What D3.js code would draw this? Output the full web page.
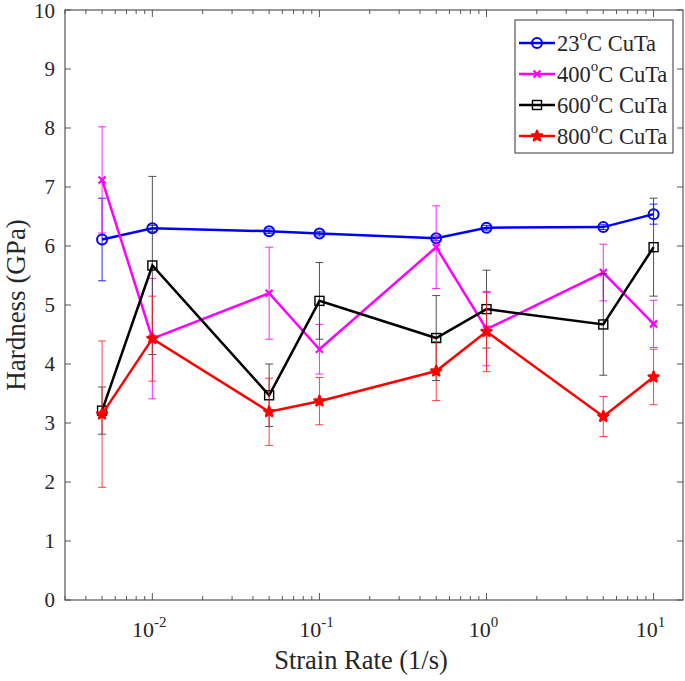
<!DOCTYPE html>
<html><head><meta charset="utf-8">
<script src="https://cdn.jsdelivr.net/npm/d3@7"></script>
<style>body{margin:0;background:#fff}svg{display:block}</style>
</head><body><svg id="c" width="685" height="681"></svg>
<script>
const rates = [0.005, 0.01, 0.05, 0.1, 0.5, 1, 5, 10];
const h23  = [6.11, 6.30, 6.25, 6.21, 6.13, 6.31, 6.32, 6.54];
const e23  = [0.70, 0.05, 0.04, 0.04, 0.04, 0.04, 0.04, 0.17];
const h400 = [7.12, 4.43, 5.20, 4.25, 5.98, 4.59, 5.55, 4.68];
const e400 = [0.90, 1.02, 0.78, 0.42, 0.70, 0.62, 0.48, 0.40];
const h600 = [3.21, 5.67, 3.47, 5.07, 4.44, 4.93, 4.67, 5.98];
const e600 = [0.40, 1.51, 0.53, 0.65, 0.72, 0.66, 0.86, 0.83];
const h800 = [3.15, 4.43, 3.19, 3.37, 3.88, 4.55, 3.11, 3.78];
const e800 = [1.24, 0.72, 0.57, 0.40, 0.50, 0.68, 0.34, 0.47];
const seriesNames = ["23", "400", "600", "800"];
const yTicks = [0,1,2,3,4,5,6,7,8,9,10];
const xTicks = [0.01, 0.1, 1, 10];

const FONT = "Liberation Serif, Times New Roman, serif";
const TXT = "#262626";

const series = [
  {name: seriesNames[0], v: h23, e: e23, color: "#0000ff", ecolor: "#0000ff", marker: "circle"},
  {name: seriesNames[1], v: h400, e: e400, color: "#ff00ff", ecolor: "#ff00ff", marker: "x"},
  {name: seriesNames[2], v: h600, e: e600, color: "#000000", ecolor: "#333333", marker: "square"},
  {name: seriesNames[3], v: h800, e: e800, color: "#ff0000", ecolor: "#ff2020", marker: "star"}
];

const svg = d3.select("#c");
const L = 65, R = 683, T = 10, B = 600;
const x = d3.scaleLog().domain([0.003, 15]).range([L, R]);
const y = d3.scaleLinear().domain([0, 10]).range([B, T]);
const axisColor = "#555";

const minor = [];
for (let d = -3; d <= 1; d++) for (let k = 1; k <= 9; k++) {
  const v = k * Math.pow(10, d);
  if (v >= 0.003 && v <= 15) minor.push(v);
}
const g = svg.append("g");
minor.forEach(v => {
  const major = xTicks.some(t => Math.abs(t - v) < 1e-9);
  const len = major ? 7 : 4;
  g.append("line").attr("x1", x(v)).attr("x2", x(v)).attr("y1", B).attr("y2", B - len).attr("stroke", axisColor);
  g.append("line").attr("x1", x(v)).attr("x2", x(v)).attr("y1", T).attr("y2", T + len).attr("stroke", axisColor);
});
yTicks.forEach(v => {
  g.append("line").attr("x1", L).attr("x2", L + 6).attr("y1", y(v)).attr("y2", y(v)).attr("stroke", axisColor);
  g.append("line").attr("x1", R).attr("x2", R - 6).attr("y1", y(v)).attr("y2", y(v)).attr("stroke", axisColor);
  g.append("text").attr("x", 55).attr("y", Math.max(y(v) + 7, 18)).attr("text-anchor", "end").attr("font-size", 21)
    .attr("font-family", FONT).attr("fill", TXT).text(v);
});
g.append("rect").attr("x", L).attr("y", T).attr("width", R - L).attr("height", B - T)
  .attr("fill", "none").attr("stroke", axisColor).attr("stroke-width", 1.2);

xTicks.forEach(v => {
  const e = Math.round(Math.log10(v));
  const t = g.append("text").attr("x", x(v) - 3).attr("y", 637).attr("text-anchor", "middle").attr("font-size", 22)
    .attr("font-family", FONT).attr("fill", TXT);
  t.append("tspan").text("10");
  t.append("tspan").attr("dy", -10).attr("font-size", 15).text(e);
});

svg.append("text").attr("x", 361).attr("y", 669).attr("text-anchor", "middle").attr("font-size", 26.5)
  .attr("font-family", FONT).attr("fill", TXT).text("Strain Rate (1/s)");
svg.append("text").attr("transform", "translate(25,305) rotate(-90)").attr("text-anchor", "middle").attr("font-size", 27)
  .attr("font-family", FONT).attr("fill", TXT).text("Hardness (GPa)");

function drawMarker(sel, type, color, cx, cy) {
  if (type === "circle") {
    sel.append("circle").attr("cx", cx).attr("cy", cy).attr("r", 5).attr("fill", "none").attr("stroke", color).attr("stroke-width", 2);
  } else if (type === "x") {
    sel.append("path").attr("d", `M${cx-3.5},${cy-3.5}L${cx+3.5},${cy+3.5}M${cx-3.5},${cy+3.5}L${cx+3.5},${cy-3.5}`)
      .attr("stroke", color).attr("stroke-width", 2.2);
  } else if (type === "square") {
    sel.append("rect").attr("x", cx - 4.5).attr("y", cy - 4.5).attr("width", 9).attr("height", 9)
      .attr("fill", "none").attr("stroke", color).attr("stroke-width", 1.4);
  } else {
    sel.append("path").attr("d", d3.symbol().type(d3.symbolStar).size(30)()).attr("transform", `translate(${cx},${cy})`)
      .attr("fill", color).attr("stroke", color).attr("stroke-width", 2.5).attr("stroke-linejoin", "round");
  }
}

const line = d3.line().x(d => x(d[0])).y(d => y(d[1]));
series.forEach(s => {
  const gs = svg.append("g");
  rates.forEach((r, i) => {
    const cx = x(r), y1 = y(s.v[i] + s.e[i]), y2 = y(s.v[i] - s.e[i]);
    gs.append("path").attr("d", `M${cx},${y1}V${y2}M${cx-4},${y1}H${cx+4}M${cx-4},${y2}H${cx+4}`)
      .attr("stroke", s.ecolor).attr("stroke-width", 1).attr("fill", "none").attr("opacity", 0.85);
  });
  gs.append("path").datum(rates.map((r, i) => [r, s.v[i]])).attr("d", line)
    .attr("fill", "none").attr("stroke", s.color).attr("stroke-width", 2.5);
  rates.forEach((r, i) => drawMarker(gs, s.marker, s.color, x(r), y(s.v[i])));
});

const lg = svg.append("g");
lg.append("rect").attr("x", 515).attr("y", 20).attr("width", 158).attr("height", 133)
  .attr("fill", "#fff").attr("stroke", axisColor).attr("stroke-width", 1.2);
series.forEach((s, i) => {
  const ly = 43 + i * 31;
  lg.append("line").attr("x1", 519).attr("x2", 555).attr("y1", ly).attr("y2", ly).attr("stroke", s.color).attr("stroke-width", 2.5);
  drawMarker(lg, s.marker, s.color, 537, ly);
  const t = lg.append("text").attr("x", 557).attr("y", ly + 8).attr("font-size", 22.5)
    .attr("font-family", FONT).attr("fill", TXT);
  t.append("tspan").text(s.name);
  t.append("tspan").attr("dy", -11).attr("font-size", 15).text("o");
  t.append("tspan").attr("dy", 11).text("C CuTa");
});
</script></body></html>
